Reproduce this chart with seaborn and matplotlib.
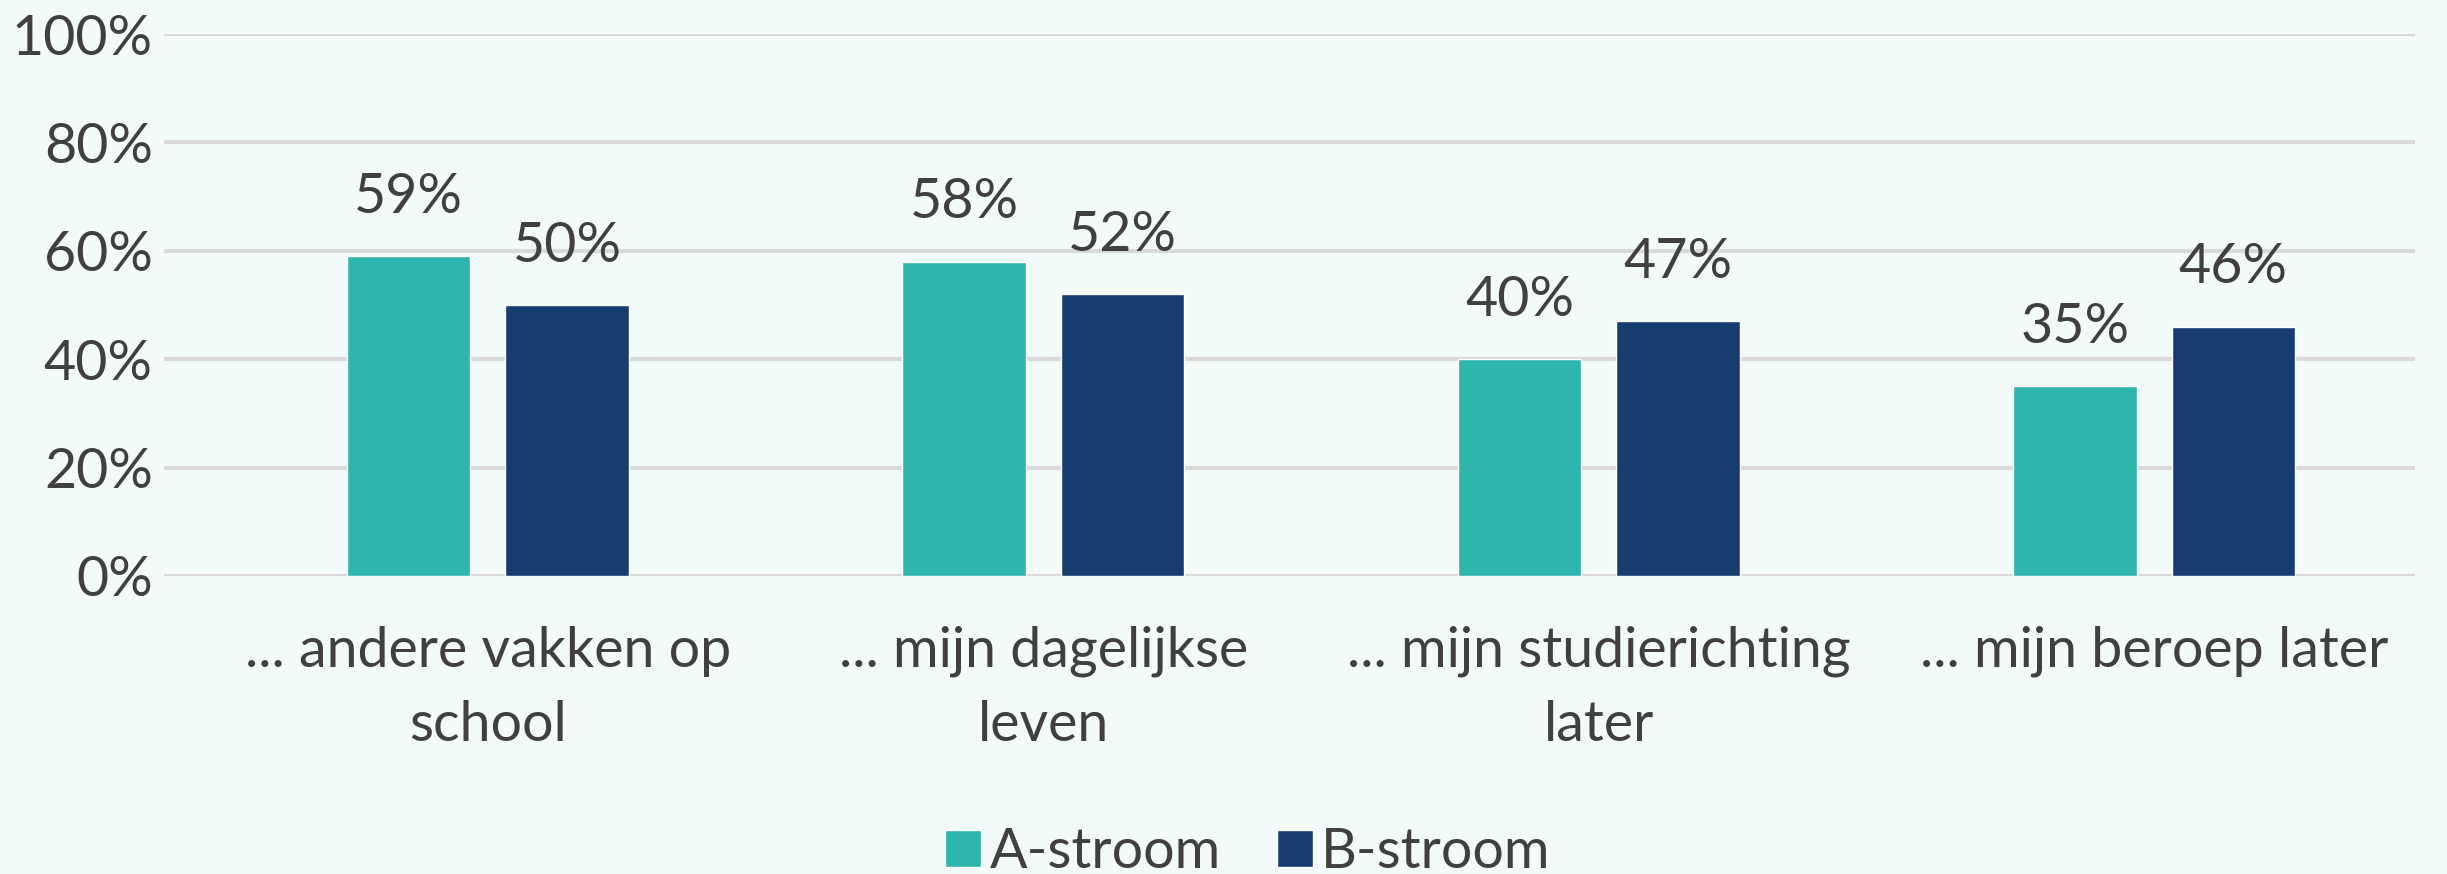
import pandas as pd
import matplotlib.pyplot as plt
import seaborn as sns
from matplotlib.patches import Patch

categories = ["... andere vakken op\nschool", "... mijn dagelijkse\nleven",
              "... mijn studierichting\nlater", "... mijn beroep later"]
groups = ["A-stroom", "B-stroom"]
a_stroom = [59, 58, 40, 35]
b_stroom = [50, 52, 47, 46]
colors = ["#2EB5AE", "#173D70"]

df = pd.DataFrame({
    "categorie": categories * 2,
    "groep": [groups[0]] * 4 + [groups[1]] * 4,
    "waarde": a_stroom + b_stroom,
})

bg = "#F3FBFA"
txt = "#404040"
fs = 40

sns.set_theme(style="white")
plt.rcParams["font.family"] = ["Lato", "DejaVu Sans"]

fig = plt.figure(figsize=(24.47, 8.74), dpi=100, facecolor=bg)
ax = fig.add_axes([0.067, 0.341, 0.920, 0.620])
ax.set_facecolor(bg)

sns.barplot(data=df, x="categorie", y="waarde", hue="groep", palette=colors,
            saturation=1, width=0.57, gap=0.22, legend=False, ax=ax)

# value labels above the bars
for cont in ax.containers:
    ax.bar_label(cont, fmt="{:.0f}%", padding=24, fontsize=fs, color=txt)

ax.set_ylim(0, 100)
ax.set_xlim(-0.583, 3.47)
ax.set_yticks(range(0, 101, 20))
ax.set_yticklabels([f"{v}%" for v in range(0, 101, 20)])
ax.yaxis.grid(True, color="#D9D9D9", linewidth=3)
ax.set_axisbelow(True)
for s in ax.spines.values():
    s.set_visible(False)
ax.tick_params(axis="y", labelsize=fs, colors=txt, length=0, pad=8)
ax.tick_params(axis="x", labelsize=fs, colors=txt, length=0, pad=36)
for lab in ax.get_xticklabels():
    lab.set_linespacing(1.55)
ax.set_xlabel("")
ax.set_ylabel("")

handles = [Patch(facecolor=c) for c in colors]
fig.legend(handles, groups, loc="center", bbox_to_anchor=(0.51, 0.025),
           ncol=2, frameon=False, fontsize=fs, labelcolor=txt,
           handlelength=0.65, handleheight=0.65, handletextpad=0.15,
           columnspacing=1.0)

fig.savefig("out.png", dpi=100, facecolor=bg)
